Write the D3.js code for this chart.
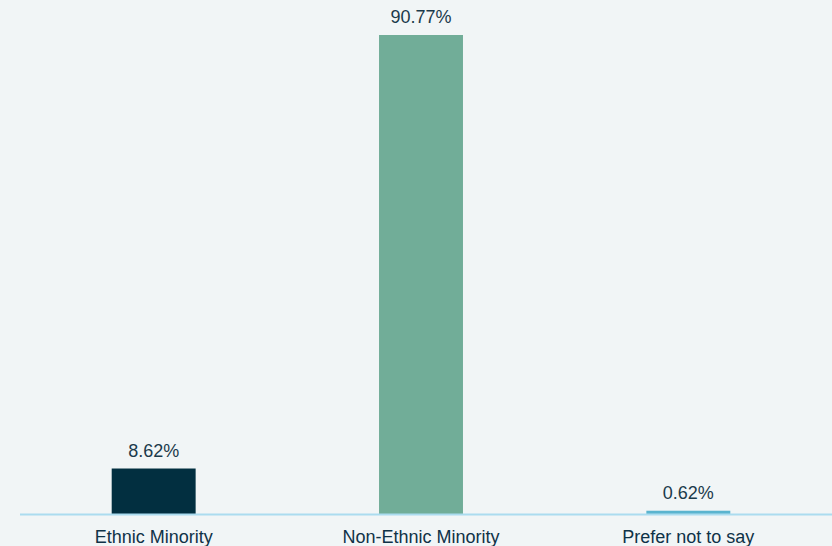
<!DOCTYPE html>
<html>
<head>
<meta charset="utf-8">
<script src="https://cdn.jsdelivr.net/npm/d3@7"></script>
<style>
  html, body { margin: 0; padding: 0; background: #f1f5f6; }
  svg { display: block; }
  text { font-family: "Liberation Sans", Arial, sans-serif; }
</style>
</head>
<body>
<svg id="chart" width="832" height="546"></svg>
<script>
// Share of respondents by ethnicity group (%)
const categories = ["Ethnic Minority", "Non-Ethnic Minority", "Prefer not to say"];
const values = [8.62, 90.77, 0.62];
const barColors = ["#022f40", "#71ad98", "#5ab4cf"];

const width = 832, height = 546;
const baseline = 514;
const svg = d3.select("#chart");

svg.append("rect").attr("width", width).attr("height", height).attr("fill", "#f1f5f6");

const x = d3.scaleBand().domain(categories).range([20, 822]).padding(0);
const y = d3.scaleLinear().domain([0, d3.max(values)]).range([baseline, 35]);
const barW = x.bandwidth() * 0.314;

const data = categories.map((c, i) => ({ c, v: values[i], color: barColors[i] }));

svg.selectAll("rect.bar").data(data).join("rect")
  .attr("class", "bar")
  .attr("x", d => x(d.c) + (x.bandwidth() - barW) / 2)
  .attr("width", barW)
  .attr("y", d => y(d.v))
  .attr("height", d => baseline - y(d.v))
  .attr("fill", d => d.color);

svg.selectAll("text.val").data(data).join("text")
  .attr("class", "val")
  .attr("x", d => x(d.c) + x.bandwidth() / 2)
  .attr("y", d => y(d.v) - 12)
  .attr("text-anchor", "middle")
  .attr("font-size", 18)
  .attr("fill", "#1b3a4b")
  .text(d => d.v.toFixed(2) + "%");

// x axis
const axis = svg.append("g").attr("transform", `translate(0,${baseline})`)
  .call(d3.axisBottom(x).tickSize(0).tickPadding(16));
axis.select(".domain").attr("stroke", "#abdcef").attr("stroke-width", 2)
  .attr("d", `M20,0.5H832`);
axis.selectAll(".tick text")
  .attr("font-size", 18)
  .attr("font-family", "Liberation Sans, Arial, sans-serif")
  .attr("fill", "#0f3247");
</script>
</body>
</html>
